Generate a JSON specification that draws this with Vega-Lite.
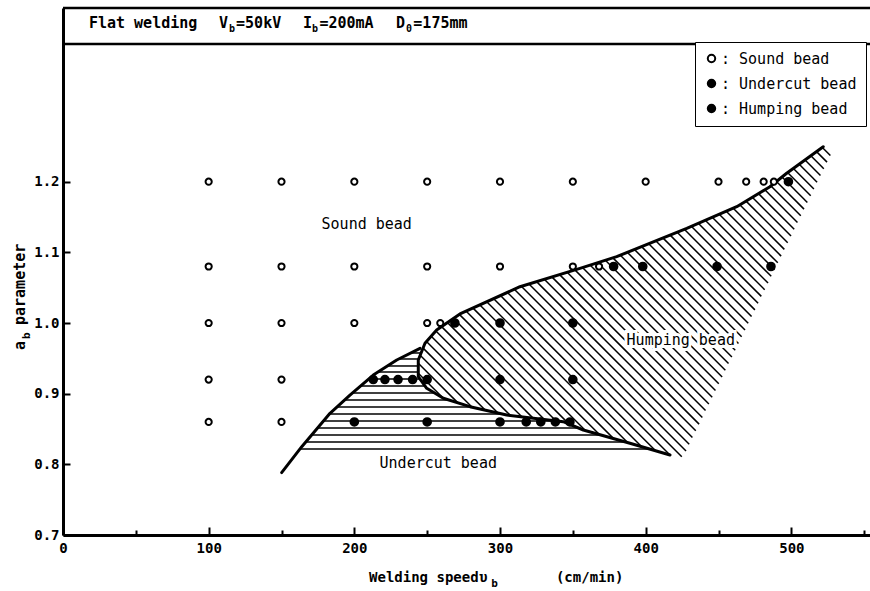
{
  "$schema": "https://vega.github.io/schema/vega-lite/v6.json",
  "width": 807,
  "height": 527,
  "autosize": {"type": "none"},
  "padding": {"left": 63, "top": 8, "right": 0, "bottom": 56},
  "background": "white",
  "config": {
    "view": {"stroke": null},
    "font": "DejaVu Sans Mono",
    "text": {"font": "DejaVu Sans Mono", "color": "black"},
    "legend": {
      "orient": "none",
      "legendX": 632,
      "legendY": 34,
      "strokeColor": "black",
      "fillColor": "white",
      "padding": 9,
      "rowPadding": 8,
      "labelFont": "DejaVu Sans Mono",
      "labelFontSize": 15,
      "labelColor": "black",
      "labelOffset": 2,
      "symbolType": "circle",
      "symbolSize": 55,
      "symbolStrokeColor": "black",
      "symbolStrokeWidth": 2
    }
  },
  "datasets": {
    "beads": [
      {"speed": 100, "ab": 1.2, "bead": "Sound bead"},
      {"speed": 150, "ab": 1.2, "bead": "Sound bead"},
      {"speed": 200, "ab": 1.2, "bead": "Sound bead"},
      {"speed": 250, "ab": 1.2, "bead": "Sound bead"},
      {"speed": 300, "ab": 1.2, "bead": "Sound bead"},
      {"speed": 350, "ab": 1.2, "bead": "Sound bead"},
      {"speed": 400, "ab": 1.2, "bead": "Sound bead"},
      {"speed": 450, "ab": 1.2, "bead": "Sound bead"},
      {"speed": 469, "ab": 1.2, "bead": "Sound bead"},
      {"speed": 481, "ab": 1.2, "bead": "Sound bead"},
      {"speed": 488, "ab": 1.2, "bead": "Sound bead"},
      {"speed": 498, "ab": 1.2, "bead": "Humping bead"},
      {"speed": 100, "ab": 1.08, "bead": "Sound bead"},
      {"speed": 150, "ab": 1.08, "bead": "Sound bead"},
      {"speed": 200, "ab": 1.08, "bead": "Sound bead"},
      {"speed": 250, "ab": 1.08, "bead": "Sound bead"},
      {"speed": 300, "ab": 1.08, "bead": "Sound bead"},
      {"speed": 350, "ab": 1.08, "bead": "Sound bead"},
      {"speed": 368, "ab": 1.08, "bead": "Sound bead"},
      {"speed": 378, "ab": 1.08, "bead": "Humping bead"},
      {"speed": 398, "ab": 1.08, "bead": "Humping bead"},
      {"speed": 449, "ab": 1.08, "bead": "Humping bead"},
      {"speed": 486, "ab": 1.08, "bead": "Humping bead"},
      {"speed": 100, "ab": 1.0, "bead": "Sound bead"},
      {"speed": 150, "ab": 1.0, "bead": "Sound bead"},
      {"speed": 200, "ab": 1.0, "bead": "Sound bead"},
      {"speed": 250, "ab": 1.0, "bead": "Sound bead"},
      {"speed": 259, "ab": 1.0, "bead": "Sound bead"},
      {"speed": 269, "ab": 1.0, "bead": "Humping bead"},
      {"speed": 300, "ab": 1.0, "bead": "Humping bead"},
      {"speed": 350, "ab": 1.0, "bead": "Humping bead"},
      {"speed": 100, "ab": 0.92, "bead": "Sound bead"},
      {"speed": 150, "ab": 0.92, "bead": "Sound bead"},
      {"speed": 213, "ab": 0.92, "bead": "Undercut bead"},
      {"speed": 221, "ab": 0.92, "bead": "Undercut bead"},
      {"speed": 230, "ab": 0.92, "bead": "Undercut bead"},
      {"speed": 240, "ab": 0.92, "bead": "Undercut bead"},
      {"speed": 250, "ab": 0.92, "bead": "Undercut bead"},
      {"speed": 300, "ab": 0.92, "bead": "Humping bead"},
      {"speed": 350, "ab": 0.92, "bead": "Humping bead"},
      {"speed": 100, "ab": 0.86, "bead": "Sound bead"},
      {"speed": 150, "ab": 0.86, "bead": "Sound bead"},
      {"speed": 200, "ab": 0.86, "bead": "Undercut bead"},
      {"speed": 250, "ab": 0.86, "bead": "Undercut bead"},
      {"speed": 300, "ab": 0.86, "bead": "Undercut bead"},
      {"speed": 318, "ab": 0.86, "bead": "Undercut bead"},
      {"speed": 328, "ab": 0.86, "bead": "Undercut bead"},
      {"speed": 338, "ab": 0.86, "bead": "Undercut bead"},
      {"speed": 348, "ab": 0.86, "bead": "Undercut bead"}
    ],
    "bounds": [
      {"curve": "undercut", "i": 0, "speed": 150.1, "ab": 0.7882},
      {"curve": "undercut", "i": 1, "speed": 163.9, "ab": 0.825},
      {"curve": "undercut", "i": 2, "speed": 183.3, "ab": 0.8722},
      {"curve": "undercut", "i": 3, "speed": 197.0, "ab": 0.8981},
      {"curve": "undercut", "i": 4, "speed": 213.0, "ab": 0.9264},
      {"curve": "undercut", "i": 5, "speed": 229.1, "ab": 0.9477},
      {"curve": "undercut", "i": 6, "speed": 245.1, "ab": 0.9642},
      {"curve": "humping", "i": 0, "speed": 416.7, "ab": 0.8132},
      {"curve": "humping", "i": 1, "speed": 389.2, "ab": 0.8298},
      {"curve": "humping", "i": 2, "speed": 357.2, "ab": 0.8486},
      {"curve": "humping", "i": 3, "speed": 343.4, "ab": 0.8603},
      {"curve": "humping", "i": 4, "speed": 304.6, "ab": 0.8698},
      {"curve": "humping", "i": 5, "speed": 279.4, "ab": 0.8816},
      {"curve": "humping", "i": 6, "speed": 261.1, "ab": 0.8935},
      {"curve": "humping", "i": 7, "speed": 249.7, "ab": 0.9076},
      {"curve": "humping", "i": 8, "speed": 243.9, "ab": 0.924},
      {"curve": "humping", "i": 9, "speed": 243.9, "ab": 0.9477},
      {"curve": "humping", "i": 10, "speed": 248.5, "ab": 0.9713},
      {"curve": "humping", "i": 11, "speed": 256.5, "ab": 0.9901},
      {"curve": "humping", "i": 12, "speed": 272.5, "ab": 1.0128},
      {"curve": "humping", "i": 13, "speed": 313.7, "ab": 1.0514},
      {"curve": "humping", "i": 14, "speed": 354.9, "ab": 1.0774},
      {"curve": "humping", "i": 15, "speed": 380.1, "ab": 1.0939},
      {"curve": "humping", "i": 16, "speed": 428.2, "ab": 1.134},
      {"curve": "humping", "i": 17, "speed": 462.5, "ab": 1.1646},
      {"curve": "humping", "i": 18, "speed": 485.3, "ab": 1.1929},
      {"curve": "humping", "i": 19, "speed": 496.8, "ab": 1.2119},
      {"curve": "humping", "i": 20, "speed": 521.9, "ab": 1.2495}
    ],
    "undercutHatch": [
      {"ab": 0.9576, "speed": 238.6, "speed2": 245.8},
      {"ab": 0.9491, "speed": 230.4, "speed2": 244.1},
      {"ab": 0.9392, "speed": 222.6, "speed2": 243.9},
      {"ab": 0.9307, "speed": 216.2, "speed2": 243.9},
      {"ab": 0.9208, "speed": 209.8, "speed2": 245.1},
      {"ab": 0.9109, "speed": 204.2, "speed2": 248.5},
      {"ab": 0.901, "speed": 198.6, "speed2": 255.0},
      {"ab": 0.8911, "speed": 193.2, "speed2": 264.7},
      {"ab": 0.8811, "speed": 188.0, "speed2": 280.3},
      {"ab": 0.8712, "speed": 182.9, "speed2": 301.6},
      {"ab": 0.8613, "speed": 178.8, "speed2": 339.5},
      {"ab": 0.8514, "speed": 174.7, "speed2": 353.9},
      {"ab": 0.8415, "speed": 170.7, "speed2": 369.3},
      {"ab": 0.8316, "speed": 166.6, "speed2": 386.0},
      {"ab": 0.8217, "speed": 162.6, "speed2": 402.6}
    ],
    "humpingHatch": [
      {"speed": 243.9, "ab": 0.9288, "speed2": 261.1, "ab2": 0.8935},
      {"speed": 243.9, "ab": 0.943, "speed2": 271.1, "ab2": 0.887},
      {"speed": 245.2, "ab": 0.9545, "speed2": 280.9, "ab2": 0.8809},
      {"speed": 247.2, "ab": 0.9645, "speed2": 289.8, "ab2": 0.8768},
      {"speed": 249.5, "ab": 0.9738, "speed2": 298.6, "ab2": 0.8727},
      {"speed": 252.8, "ab": 0.9813, "speed2": 307.1, "ab2": 0.8693},
      {"speed": 256.0, "ab": 0.9888, "speed2": 315.0, "ab2": 0.8673},
      {"speed": 259.9, "ab": 0.9949, "speed2": 322.7, "ab2": 0.8654},
      {"speed": 264.0, "ab": 1.0006, "speed2": 330.5, "ab2": 0.8635},
      {"speed": 268.1, "ab": 1.0064, "speed2": 338.3, "ab2": 0.8616},
      {"speed": 272.1, "ab": 1.0122, "speed2": 347.4, "ab2": 0.8569},
      {"speed": 276.8, "ab": 1.0167, "speed2": 358.8, "ab2": 0.8476},
      {"speed": 281.5, "ab": 1.0211, "speed2": 368.4, "ab2": 0.8419},
      {"speed": 286.2, "ab": 1.0256, "speed2": 378.0, "ab2": 0.8364},
      {"speed": 290.9, "ab": 1.03, "speed2": 387.6, "ab2": 0.8308},
      {"speed": 295.7, "ab": 1.0344, "speed2": 397.3, "ab2": 0.825},
      {"speed": 300.3, "ab": 1.0389, "speed2": 407.0, "ab2": 0.819},
      {"speed": 305.1, "ab": 1.0433, "speed2": 416.7, "ab2": 0.8132},
      {"speed": 309.8, "ab": 1.0477, "speed2": 424.8, "ab2": 0.8107},
      {"speed": 314.6, "ab": 1.052, "speed2": 427.7, "ab2": 0.8189},
      {"speed": 319.9, "ab": 1.0552, "speed2": 429.9, "ab2": 0.8285},
      {"speed": 325.1, "ab": 1.0586, "speed2": 432.1, "ab2": 0.838},
      {"speed": 330.4, "ab": 1.0619, "speed2": 434.4, "ab2": 0.8475},
      {"speed": 335.6, "ab": 1.0653, "speed2": 436.7, "ab2": 0.8569},
      {"speed": 340.9, "ab": 1.0685, "speed2": 438.9, "ab2": 0.8664},
      {"speed": 346.1, "ab": 1.0719, "speed2": 441.1, "ab2": 0.8761},
      {"speed": 351.4, "ab": 1.0752, "speed2": 443.4, "ab2": 0.8855},
      {"speed": 356.6, "ab": 1.0786, "speed2": 445.7, "ab2": 0.895},
      {"speed": 361.8, "ab": 1.082, "speed2": 447.9, "ab2": 0.9045},
      {"speed": 367.1, "ab": 1.0854, "speed2": 450.2, "ab2": 0.914},
      {"speed": 372.3, "ab": 1.0888, "speed2": 452.5, "ab2": 0.9235},
      {"speed": 377.5, "ab": 1.0922, "speed2": 454.7, "ab2": 0.9331},
      {"speed": 382.6, "ab": 1.0958, "speed2": 456.9, "ab2": 0.9426},
      {"speed": 387.5, "ab": 1.0999, "speed2": 459.2, "ab2": 0.952},
      {"speed": 392.3, "ab": 1.104, "speed2": 461.5, "ab2": 0.9615},
      {"speed": 397.2, "ab": 1.1081, "speed2": 463.7, "ab2": 0.971},
      {"speed": 402.1, "ab": 1.1122, "speed2": 465.9, "ab2": 0.9806},
      {"speed": 406.9, "ab": 1.1164, "speed2": 468.2, "ab2": 0.9901},
      {"speed": 411.8, "ab": 1.1205, "speed2": 470.4, "ab2": 0.9996},
      {"speed": 416.8, "ab": 1.1244, "speed2": 472.7, "ab2": 1.0091},
      {"speed": 421.6, "ab": 1.1285, "speed2": 475.0, "ab2": 1.0186},
      {"speed": 426.5, "ab": 1.1326, "speed2": 477.2, "ab2": 1.028},
      {"speed": 431.3, "ab": 1.1369, "speed2": 479.4, "ab2": 1.0377},
      {"speed": 436.1, "ab": 1.1411, "speed2": 481.7, "ab2": 1.0472},
      {"speed": 440.9, "ab": 1.1454, "speed2": 484.0, "ab2": 1.0566},
      {"speed": 445.7, "ab": 1.1496, "speed2": 486.2, "ab2": 1.0661},
      {"speed": 450.5, "ab": 1.154, "speed2": 488.5, "ab2": 1.0756},
      {"speed": 455.3, "ab": 1.1582, "speed2": 490.7, "ab2": 1.0852},
      {"speed": 460.1, "ab": 1.1625, "speed2": 493.0, "ab2": 1.0947},
      {"speed": 464.6, "ab": 1.1673, "speed2": 495.2, "ab2": 1.1042},
      {"speed": 468.9, "ab": 1.1725, "speed2": 497.5, "ab2": 1.1137},
      {"speed": 473.2, "ab": 1.1779, "speed2": 499.8, "ab2": 1.1231},
      {"speed": 477.5, "ab": 1.1831, "speed2": 502.0, "ab2": 1.1326},
      {"speed": 481.8, "ab": 1.1885, "speed2": 504.2, "ab2": 1.1423},
      {"speed": 486.0, "ab": 1.194, "speed2": 506.5, "ab2": 1.1517},
      {"speed": 489.8, "ab": 1.2003, "speed2": 508.7, "ab2": 1.1612},
      {"speed": 493.6, "ab": 1.2066, "speed2": 511.0, "ab2": 1.1707},
      {"speed": 497.4, "ab": 1.2129, "speed2": 513.3, "ab2": 1.1802},
      {"speed": 501.4, "ab": 1.2188, "speed2": 515.5, "ab2": 1.1897},
      {"speed": 505.4, "ab": 1.2248, "speed2": 517.7, "ab2": 1.1993},
      {"speed": 509.4, "ab": 1.2307, "speed2": 520.0, "ab2": 1.2088},
      {"speed": 513.4, "ab": 1.2366, "speed2": 522.3, "ab2": 1.2182},
      {"speed": 517.3, "ab": 1.2426, "speed2": 524.5, "ab2": 1.2277},
      {"speed": 521.3, "ab": 1.2485, "speed2": 526.8, "ab2": 1.2372}
    ],
    "regions": [
      {"label": "Sound bead", "speed": 208.5, "ab": 1.1401},
      {"label": "Undercut bead", "speed": 257.6, "ab": 0.8015},
      {"label": "Humping bead", "speed": 424.1, "ab": 0.976}
    ],
    "headMain": [
      {"text": "Flat welding", "speed": 17.8, "ab": 1.4175},
      {"text": "V", "speed": 107.1, "ab": 1.4175},
      {"text": "=50kV", "speed": 118.8, "ab": 1.4175},
      {"text": "I", "speed": 164.8, "ab": 1.4175},
      {"text": "=200mA", "speed": 176.0, "ab": 1.4175},
      {"text": "D", "speed": 228.6, "ab": 1.4175},
      {"text": "=175mm", "speed": 240.5, "ab": 1.4175}
    ],
    "headSub": [
      {"text": "b", "speed": 114.0, "ab": 1.4175},
      {"text": "b", "speed": 171.0, "ab": 1.4175},
      {"text": "0", "speed": 235.5, "ab": 1.4175}
    ],
    "xTitleMain": [
      {"text": "Welding speed", "speed": 210.1, "ab": 0.6335},
      {"text": "υ", "speed": 285.6, "ab": 0.6335},
      {"text": "(cm/min)", "speed": 338.4, "ab": 0.6335}
    ],
    "xTitleSub": [
      {"text": "b", "speed": 294.0, "ab": 0.6335}
    ],
    "yTitleMain": [
      {"text": "a", "speed": -26.1, "ab": 0.9618},
      {"text": "parameter", "speed": -26.1, "ab": 0.9972}
    ],
    "yTitleSub": [
      {"text": "b", "speed": -26.1, "ab": 0.9774}
    ]
  },
  "layer": [
    {
      "data": {"name": "undercutHatch"},
      "mark": {"type": "rule", "stroke": "black", "strokeWidth": 1.5},
      "encoding": {
        "x": {
          "field": "speed", "type": "quantitative",
          "scale": {"domain": [0, 554], "nice": false, "zero": false},
          "axis": {
            "title": null,
            "values": [0, 50, 100, 150, 200, 250, 300, 350, 400, 450, 500, 550],
            "labelExpr": "datum.value % 100 === 0 ? datum.label : ''",
            "tickSize": {"condition": {"test": "datum.value % 100 === 0", "value": -8}, "value": -5},
            "tickWidth": 2,
            "tickColor": "black",
            "domainColor": "black",
            "domainWidth": 3,
            "grid": false,
            "labelFont": "DejaVu Sans Mono",
            "labelFontSize": 14,
            "labelFontWeight": "bold",
            "labelColor": "black",
            "labelPadding": 14,
            "labelFlush": false,
            "labelOverlap": false
          }
        },
        "x2": {"field": "speed2"},
        "y": {
          "field": "ab", "type": "quantitative",
          "scale": {"domain": [0.7, 1.44583], "nice": false, "zero": false},
          "axis": {
            "title": null,
            "values": [0.7, 0.8, 0.9, 1.0, 1.1, 1.2],
            "format": ".1f",
            "tickSize": -7,
            "tickWidth": 2,
            "tickColor": "black",
            "domainColor": "black",
            "domainWidth": 3,
            "grid": false,
            "labelFont": "DejaVu Sans Mono",
            "labelFontSize": 14,
            "labelFontWeight": "bold",
            "labelColor": "black",
            "labelPadding": 11,
            "labelOverlap": false
          }
        }
      }
    },
    {
      "data": {"name": "humpingHatch"},
      "mark": {"type": "rule", "stroke": "black", "strokeWidth": 1.5},
      "encoding": {
        "x": {"field": "speed", "type": "quantitative", "scale": {"domain": [0, 554], "nice": false, "zero": false}},
        "y": {"field": "ab", "type": "quantitative", "scale": {"domain": [0.7, 1.44583], "nice": false, "zero": false}},
        "x2": {"field": "speed2"},
        "y2": {"field": "ab2"}
      }
    },
    {
      "data": {"name": "bounds"},
      "mark": {"type": "line", "stroke": "black", "strokeWidth": 3, "strokeCap": "round", "strokeJoin": "round"},
      "encoding": {
        "x": {"field": "speed", "type": "quantitative", "scale": {"domain": [0, 554], "nice": false, "zero": false}},
        "y": {"field": "ab", "type": "quantitative", "scale": {"domain": [0.7, 1.44583], "nice": false, "zero": false}},
        "detail": {"field": "curve", "type": "nominal"},
        "order": {"field": "i", "type": "quantitative"}
      }
    },
    {
      "data": {"name": "beads"},
      "transform": [{"filter": "datum.bead === 'Sound bead'"}],
      "mark": {"type": "point", "shape": "circle", "filled": true, "strokeWidth": 2, "size": 38, "opacity": 1},
      "encoding": {
        "x": {"field": "speed", "type": "quantitative", "scale": {"domain": [0, 554], "nice": false, "zero": false}},
        "y": {"field": "ab", "type": "quantitative", "scale": {"domain": [0.7, 1.44583], "nice": false, "zero": false}},
        "fill": {
          "field": "bead", "type": "nominal",
          "scale": {"domain": ["Sound bead", "Undercut bead", "Humping bead"], "range": ["white", "black", "black"]},
          "legend": {
            "title": null,
            "labelExpr": "': ' + datum.label",
            "encode": {"legend": {"update": {"strokeWidth": {"value": 2}}}}
          }
        },
        "stroke": {
          "field": "bead", "type": "nominal",
          "scale": {"domain": ["Sound bead", "Undercut bead", "Humping bead"], "range": ["black", "black", "black"]},
          "legend": {
            "title": null,
            "labelExpr": "': ' + datum.label",
            "encode": {"legend": {"update": {"strokeWidth": {"value": 2}}}}
          }
        }
      }
    },
    {
      "data": {"name": "beads"},
      "transform": [{"filter": "datum.bead !== 'Sound bead'"}],
      "mark": {"type": "point", "shape": "circle", "filled": true, "strokeWidth": 2, "size": 58, "opacity": 1},
      "encoding": {
        "x": {"field": "speed", "type": "quantitative", "scale": {"domain": [0, 554], "nice": false, "zero": false}},
        "y": {"field": "ab", "type": "quantitative", "scale": {"domain": [0.7, 1.44583], "nice": false, "zero": false}},
        "fill": {
          "field": "bead", "type": "nominal",
          "scale": {"domain": ["Sound bead", "Undercut bead", "Humping bead"], "range": ["white", "black", "black"]},
          "legend": {
            "title": null,
            "labelExpr": "': ' + datum.label",
            "encode": {"legend": {"update": {"strokeWidth": {"value": 2}}}}
          }
        },
        "stroke": {
          "field": "bead", "type": "nominal",
          "scale": {"domain": ["Sound bead", "Undercut bead", "Humping bead"], "range": ["black", "black", "black"]},
          "legend": {
            "title": null,
            "labelExpr": "': ' + datum.label",
            "encode": {"legend": {"update": {"strokeWidth": {"value": 2}}}}
          }
        }
      }
    },
    {
      "data": {"name": "regions"},
      "mark": {"type": "text", "align": "center", "baseline": "middle", "fontSize": 15, "fill": "white", "stroke": "white", "strokeWidth": 6},
      "encoding": {
        "x": {"field": "speed", "type": "quantitative", "scale": {"domain": [0, 554], "nice": false, "zero": false}},
        "y": {"field": "ab", "type": "quantitative", "scale": {"domain": [0.7, 1.44583], "nice": false, "zero": false}},
        "text": {"field": "label"}
      }
    },
    {
      "data": {"name": "regions"},
      "mark": {"type": "text", "align": "center", "baseline": "middle", "fontSize": 15, "fill": "black"},
      "encoding": {
        "x": {"field": "speed", "type": "quantitative", "scale": {"domain": [0, 554], "nice": false, "zero": false}},
        "y": {"field": "ab", "type": "quantitative", "scale": {"domain": [0.7, 1.44583], "nice": false, "zero": false}},
        "text": {"field": "label"}
      }
    },
    {
      "data": {"values": [{}]},
      "mark": {"type": "rule", "stroke": "black", "strokeWidth": 2.5},
      "encoding": {"y": {"datum": 1.44583, "type": "quantitative", "scale": {"domain": [0.7, 1.44583], "nice": false, "zero": false}}}
    },
    {
      "data": {"values": [{}]},
      "mark": {"type": "rule", "stroke": "black", "strokeWidth": 2.5},
      "encoding": {"y": {"datum": 1.3949, "type": "quantitative", "scale": {"domain": [0.7, 1.44583], "nice": false, "zero": false}}}
    },
    {
      "data": {"name": "headMain"},
      "mark": {"type": "text", "align": "left", "baseline": "alphabetic", "fontSize": 15, "fontWeight": "bold", "fill": "black"},
      "encoding": {
        "x": {"field": "speed", "type": "quantitative", "scale": {"domain": [0, 554], "nice": false, "zero": false}},
        "y": {"field": "ab", "type": "quantitative", "scale": {"domain": [0.7, 1.44583], "nice": false, "zero": false}},
        "text": {"field": "text"}
      }
    },
    {
      "data": {"name": "headSub"},
      "mark": {"type": "text", "align": "left", "baseline": "alphabetic", "fontSize": 10, "fontWeight": "bold", "dy": 4, "fill": "black"},
      "encoding": {
        "x": {"field": "speed", "type": "quantitative", "scale": {"domain": [0, 554], "nice": false, "zero": false}},
        "y": {"field": "ab", "type": "quantitative", "scale": {"domain": [0.7, 1.44583], "nice": false, "zero": false}},
        "text": {"field": "text"}
      }
    },
    {
      "data": {"name": "xTitleMain"},
      "mark": {"type": "text", "align": "left", "baseline": "alphabetic", "fontSize": 14, "fontWeight": "bold", "fill": "black"},
      "encoding": {
        "x": {"field": "speed", "type": "quantitative", "scale": {"domain": [0, 554], "nice": false, "zero": false}},
        "y": {"field": "ab", "type": "quantitative", "scale": {"domain": [0.7, 1.44583], "nice": false, "zero": false}},
        "text": {"field": "text"}
      }
    },
    {
      "data": {"name": "xTitleSub"},
      "mark": {"type": "text", "align": "left", "baseline": "alphabetic", "fontSize": 11, "fontWeight": "bold", "dy": 5, "fill": "black"},
      "encoding": {
        "x": {"field": "speed", "type": "quantitative", "scale": {"domain": [0, 554], "nice": false, "zero": false}},
        "y": {"field": "ab", "type": "quantitative", "scale": {"domain": [0.7, 1.44583], "nice": false, "zero": false}},
        "text": {"field": "text"}
      }
    },
    {
      "data": {"name": "yTitleMain"},
      "mark": {"type": "text", "align": "left", "baseline": "alphabetic", "angle": 270, "fontSize": 15, "fontWeight": "bold", "fill": "black"},
      "encoding": {
        "x": {"field": "speed", "type": "quantitative", "scale": {"domain": [0, 554], "nice": false, "zero": false}},
        "y": {"field": "ab", "type": "quantitative", "scale": {"domain": [0.7, 1.44583], "nice": false, "zero": false}},
        "text": {"field": "text"}
      }
    },
    {
      "data": {"name": "yTitleSub"},
      "mark": {"type": "text", "align": "left", "baseline": "alphabetic", "angle": 270, "fontSize": 11, "fontWeight": "bold", "dy": 5, "fill": "black"},
      "encoding": {
        "x": {"field": "speed", "type": "quantitative", "scale": {"domain": [0, 554], "nice": false, "zero": false}},
        "y": {"field": "ab", "type": "quantitative", "scale": {"domain": [0.7, 1.44583], "nice": false, "zero": false}},
        "text": {"field": "text"}
      }
    }
  ]
}
